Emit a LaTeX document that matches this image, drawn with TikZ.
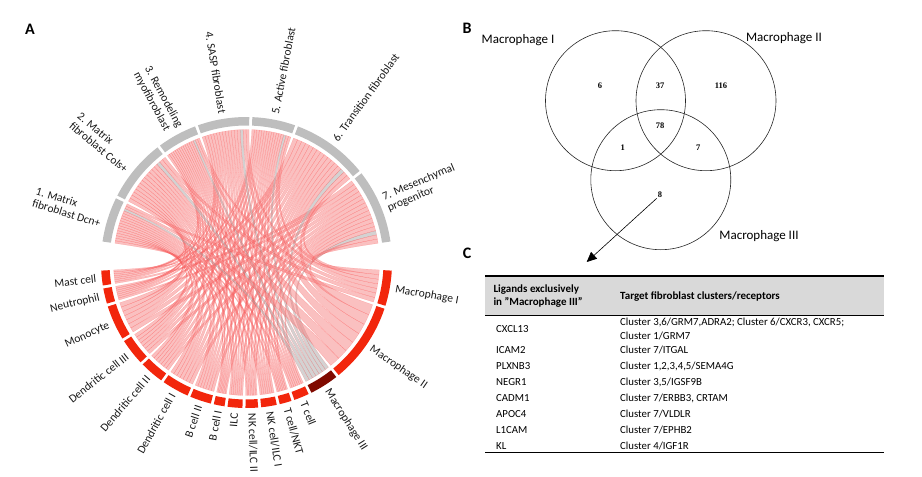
\documentclass[tikz,border=0pt]{standalone}
\usepackage{fontspec}
\setmainfont{Carlito}
\newfontfamily\vennfont{Liberation Serif}
\usetikzlibrary{arrows.meta}
\definecolor{ringgray}{RGB}{190,190,190}
\definecolor{cellred}{RGB}{242,38,12}
\definecolor{macdark}{RGB}{128,10,0}
\definecolor{chordpink}{RGB}{246,130,130}
\definecolor{chordgray}{RGB}{170,165,165}
\definecolor{headgray}{RGB}{217,217,217}

\begin{document}
\begin{tikzpicture}[x=1pt,y=1pt,
    panel/.style={font=\fontsize{16}{16}\selectfont\bfseries, inner sep=0pt},
    seglabel/.style={font=\fontsize{11.5}{12.5}\selectfont, align=left, inner sep=1pt, text=black!90},
    ribbon/.style={fill opacity=0.5, draw opacity=0.22, line width=0.25pt},
    venn/.style={line width=0.6pt, black!85},
    vennlabel/.style={font=\fontsize{13}{13}\selectfont, inner sep=0pt},
    vennnum/.style={font=\vennfont\bfseries\fontsize{8.5}{8.5}\selectfont, inner sep=1pt},
    cell/.style={font=\fontsize{10.8}{14}\selectfont, anchor=west, align=left, inner sep=0pt},
    headcell/.style={cell, font=\fontsize{11}{13.4}\selectfont\bfseries}]
\useasboundingbox (0,0) rectangle (922,-477);

% panel letters
\node[panel] (A) at (30,-29) {A};
\node[panel] (B) at (467,-28) {B};
\node[panel] (C) at (467,-253) {C};

% chord diagram
\begin{scope}[shift={(246.5,-262.5)}]
  % ribbons: cell types (bottom) to fibroblast clusters (top)
  \foreach \rs/\re [count=\i] in {182.6/189.7, 189.7/197, 197/212.1, 212.1/223.9,
      223.9/234.7, 234.7/246.7, 246.7/256.4, 256.4/261.9, 261.9/269, 269/275.2,
      275.2/282.6, 282.6/288.6, 288.6/295.9, 295.9/308.7, 308.7/342.1, 342.1/357.4} {
    \foreach \gs/\ge [count=\j] in {153.2/172.3, 127.1/153.2, 110.1/127.1, 88.3/110.1,
        69.9/88.3, 38.4/69.9, 7.7/38.4} {
      \pgfmathsetmacro\ra{\rs+0.6+(\re-\rs-1.2)*(\j-1)/7}
      \pgfmathsetmacro\rb{\rs+0.6+(\re-\rs-1.2)*\j/7}
      \pgfmathsetmacro\ga{\gs+0.6+(\ge-\gs-1.2)*(16-\i)/16}
      \pgfmathsetmacro\gb{\gs+0.6+(\ge-\gs-1.2)*(17-\i)/16}
      \ifnum\i=14 \def\ribcol{chordgray}\else\def\ribcol{chordpink}\fi
      \filldraw[ribbon, fill=\ribcol, draw=red] (\ra:133pt)
        arc[start angle=\ra, end angle=\rb, radius=133pt]
        .. controls (\rb:44pt) and (\ga:44pt) .. (\ga:133pt)
        arc[start angle=\ga, end angle=\gb, radius=133pt]
        .. controls (\gb:44pt) and (\ra:44pt) .. (\ra:133pt) -- cycle;
    }
  }

  % fibroblast clusters
  \foreach \s/\e/\txt/\anc/\flip [count=\k] in {
      153.2/172.3/{1. Matrix\\fibroblast Dcn+}/east/180,
      127.1/153.2/{2. Matrix\\fibroblast Cols+}/east/180,
      110.1/127.1/{3. Remodeling\\myofibroblast}/east/180,
      88.3/110.1/{4. SASP fibroblast}/east/180,
      69.9/88.3/{5. Active fibroblast}/west/0,
      38.4/69.9/{6. Transition fibroblast}/west/0,
      7.7/38.4/{7. Mesenchymal\\progenitor}/west/0} {
    \pgfmathsetmacro\sa{\s+0.6}
    \pgfmathsetmacro\ea{\e-0.6}
    \pgfmathsetmacro\mid{(\s+\e)/2}
    \pgfmathsetmacro\rot{\mid-\flip}
    \fill[ringgray] (\sa:137pt) arc[start angle=\sa, end angle=\ea, radius=137pt]
      -- (\ea:145.5pt) arc[start angle=\ea, end angle=\sa, radius=145.5pt] -- cycle;
    \node[seglabel, rotate=\rot, anchor=\anc] (fib-\k) at (\mid:150pt) {\txt};
  }

  % cell types
  \foreach \s/\e/\txt/\anc/\flip/\col [count=\k] in {
      182.6/189.7/{Mast cell}/east/180/cellred,
      189.7/197/{Neutrophil}/east/180/cellred,
      197/212.1/{Monocyte}/east/180/cellred,
      212.1/223.9/{Dendritic cell III}/east/180/cellred,
      223.9/234.7/{Dendritic cell II}/east/180/cellred,
      234.7/246.7/{Dendritic cell I}/east/180/cellred,
      246.7/256.4/{B cell II}/east/180/cellred,
      256.4/261.9/{B cell I}/east/180/cellred,
      261.9/269/{ILC}/east/180/cellred,
      269/275.2/{NK cell/ILC II}/west/0/cellred,
      275.2/282.6/{NK cell/ILC I}/west/0/cellred,
      282.6/288.6/{T cell/NKT}/west/0/cellred,
      288.6/295.9/{T cell}/west/0/cellred,
      295.9/308.7/{Macrophage III}/west/0/macdark,
      308.7/342.1/{Macrophage II}/west/0/cellred,
      342.1/357.4/{Macrophage I}/west/0/cellred} {
    \pgfmathsetmacro\sa{\s+0.6}
    \pgfmathsetmacro\ea{\e-0.6}
    \pgfmathsetmacro\mid{(\s+\e)/2}
    \pgfmathsetmacro\rot{\mid-\flip}
    \fill[\col] (\sa:137pt) arc[start angle=\sa, end angle=\ea, radius=137pt]
      -- (\ea:145.5pt) arc[start angle=\ea, end angle=\sa, radius=145.5pt] -- cycle;
    \node[seglabel, rotate=\rot, anchor=\anc] (cell-\k) at (\mid:150pt) {\txt};
  }
\end{scope}

% Venn diagram
\draw[venn] (615.5,-100.7) circle[radius=70pt];
\draw[venn] (706,-100.7) circle[radius=70pt];
\draw[venn] (660.8,-179.7) circle[radius=70pt];
\node[vennlabel] (mac1) at (518,-40) {Macrophage I};
\node[vennlabel] (mac2) at (784,-38) {Macrophage II};
\node[vennlabel] (mac3) at (759,-236) {Macrophage III};
\node[vennnum] (n6) at (600,-86) {6};
\node[vennnum] (n37) at (660,-86) {37};
\node[vennnum] (n116) at (721,-86) {116};
\node[vennnum] (n78) at (660,-126) {78};
\node[vennnum] (n1) at (622.7,-147.3) {1};
\node[vennnum] (n7) at (698.3,-147.3) {7};
\node[vennnum] (n8) at (660,-194.3) {8};
\coordinate (tip) at (586.7,-262);
\draw[line width=0.6pt, -{Triangle[length=10pt,width=9pt]}] (n8.south west) -- (tip);

% table
\fill[headgray] (485,-276) rectangle (884,-315);
\draw[line width=1.5pt] (485,-276) -- (884,-276);
\draw[line width=0.8pt] (485,-315) -- (884,-315);
\draw[line width=1.5pt] (485,-452.3) -- (884,-452.3);
\node[headcell] (h1) at (493.3,-296) {Ligands exclusively\\in "Macrophage III"};
\node[headcell] (h2) at (620,-296.7) {Target fibroblast clusters/receptors};
\node[cell] (l1) at (496,-329.3) {CXCL13};
\node[cell] (t1) at (620,-328.7) {Cluster 3,6/GRM7,ADRA2; Cluster 6/CXCR3, CXCR5;\\Cluster 1/GRM7};
\foreach \lig/\tgt [count=\r from 2] in {ICAM2/{Cluster 7/ITGAL},
    PLXNB3/{Cluster 1,2,3,4,5/SEMA4G}, NEGR1/{Cluster 3,5/IGSF9B},
    CADM1/{Cluster 7/ERBB3, CRTAM}, APOC4/{Cluster 7/VLDLR},
    L1CAM/{Cluster 7/EPHB2}, KL/{Cluster 4/IGF1R}} {
  \node[cell] (l\r) at (496,-350-16*\r+32) {\lig};
  \node[cell] (t\r) at (620,-350-16*\r+32) {\tgt};
}
\end{tikzpicture}
\end{document}
